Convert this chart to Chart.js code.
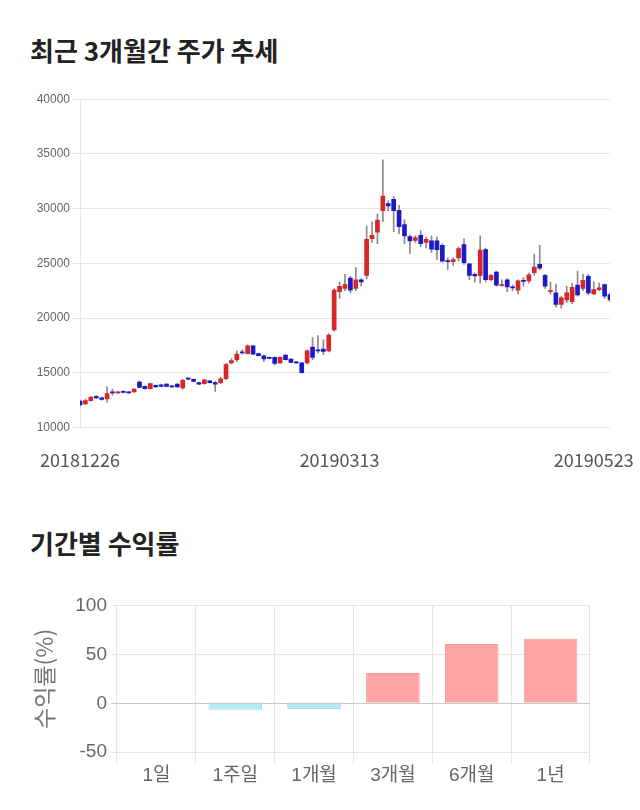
<!DOCTYPE html>
<html>
<head>
<meta charset="utf-8">
<script src="https://cdn.jsdelivr.net/npm/chart.js@4.4.1/dist/chart.umd.min.js"></script>
<style>
  body { margin: 0; background: #fff; width: 640px; height: 810px; position: relative; overflow: hidden; }
  h2 { position: absolute; left: 30px; margin: 0; line-height: 38px; font-family: "Noto Sans CJK KR", sans-serif; font-size: 26px; font-weight: bold; color: #222; }
  #t1 { top: 31px; }
  #t2 { top: 524px; }
  #w1 { position: absolute; left: 0; top: 90px; width: 640px; height: 395px; }
  #w2 { position: absolute; left: 0; top: 590px; width: 640px; height: 197px; }
</style>
</head>
<body>
<h2 id="t1">최근 3개월간 주가 추세</h2>
<h2 id="t2">기간별 수익률</h2>
<div id="w1"><canvas id="priceChart"></canvas></div>
<div id="w2"><canvas id="returnChart"></canvas></div>
<script>
// daily candles, 20181226 ~ 20190523
const opens = [12400,12150,12450,12850,12700,12600,13250,13150,13300,13250,13250,14150,13750,13550,13850,13900,13950,13800,13950,13600,
  14500,14400,14100,14000,14250,14100,14100,14450,15900,16200,16900,16750,17450,16750,16550,16400,16400,15900,16600,16250,
  16000,15900,15900,17350,17100,17150,17000,18900,22400,22700,23650,22700,23500,23900,27250,27850,29800,30450,30850,29850,
  28550,27450,27100,27550,26900,27050,27050,26650,25250,25150,25500,26700,24950,24000,23900,26250,23500,24200,22950,23500,
  22850,22550,23450,23400,24150,24900,23900,22400,22300,21250,21650,21500,23000,22700,23800,22200,22600,23050,22150];
const closes = [12050,12450,12750,12700,12550,13100,13150,13250,13200,13150,13500,13650,13550,14000,13700,13750,13750,13700,13700,14300,
  14400,14200,13950,14350,14100,13950,14450,15750,16100,16700,16800,17450,16700,16550,16250,16300,15850,16400,16200,15950,
  15900,15000,17000,16400,17000,16950,18450,22550,22900,23050,22550,23500,23300,27200,27550,28950,31150,30250,29800,28350,
  27500,27050,27350,26800,27200,26300,26250,25200,25150,25350,26350,25050,23900,23850,26200,23500,23900,23000,23050,22850,
  22750,23400,23350,23950,24650,24550,22900,22500,21250,21850,22300,22800,22100,23450,22300,22600,22750,22000,21650];
const highs = [12500,12600,12850,12900,12750,13700,13500,13300,13350,13300,13550,14250,13800,14050,13900,13950,14000,13850,14000,14400,
  14550,14450,14150,14400,14300,14200,14600,15850,16300,17000,17100,17550,17500,16800,16600,16450,16450,16450,16650,16300,
  16050,15950,17100,18200,18400,18000,18550,22700,23300,24000,23800,24600,23600,28400,28800,29500,34450,30700,31100,30300,
  29000,27600,27500,28000,27400,27500,27400,26800,25500,25500,26500,27250,25000,24100,27500,26400,24000,24300,23500,23600,
  23000,23500,23700,24100,25850,26650,24000,23300,23100,22000,22900,23200,24300,24000,24000,23300,23200,23100,22300];
const lows = [11950,12100,12400,12650,12500,12300,12950,13100,13150,13100,13200,13600,13500,13500,13650,13700,13700,13650,13650,13500,
  14350,14150,13900,13950,14050,13300,14000,14350,15800,16000,16700,16700,16650,16500,16000,16250,15700,15850,16150,15900,
  15850,14950,15800,16200,16800,16650,16900,18800,21800,22500,22300,22500,22900,23600,26900,26800,28800,29800,27900,27700,
  26800,25900,26900,26500,26400,26000,25350,25100,24450,24800,25200,24900,23500,23300,23200,23300,23400,22900,22900,22400,
  22500,22200,22900,23200,23900,24400,22700,22200,21000,20900,21400,21300,22000,22500,22100,22100,22500,21800,21500];
const xTickLabels = ['20181226', '20190313', '20190523'];
const xTickAt = [0, 48, 95];

// period returns (%)
const periods = ['1일', '1주일', '1개월', '3개월', '6개월', '1년'];
const returns = [0, -6.5, -5.8, 31, 60.5, 66];

const up = '#d92525', down = '#1a1ac8';

new Chart(document.getElementById('priceChart'), {
  type: 'bar',
  data: {
    labels: opens.map((o, i) => i),
    datasets: [{
      data: opens.map((o, i) => [o, closes[i]]),
      backgroundColor: opens.map((o, i) => closes[i] >= o ? up : down),
      barThickness: 4,
      grouped: false
    }, {
      data: lows.map((l, i) => [l, highs[i]]),
      backgroundColor: '#8a8a8a',
      barThickness: 1,
      grouped: false
    }]
  },
  options: {
    responsive: true,
    maintainAspectRatio: false,
    animation: false,
    layout: { padding: { top: 4, right: 30 } },
    plugins: { legend: { display: false }, tooltip: { enabled: false } },
    scales: {
      x: {
        offset: false,
        grid: { display: false },
        border: { display: false },
        ticks: {
          autoSkip: false,
          maxRotation: 0,
          padding: 14,
          color: '#555',
          font: { family: '"Noto Sans CJK KR"', size: 18 },
          callback: (v, i) => {
            const k = xTickAt.indexOf(i);
            return k >= 0 ? xTickLabels[k] : '';
          }
        }
      },
      y: {
        min: 10000,
        max: 40000,
        afterFit: s => { s.width = 80; },
        grid: { color: '#e6e6e6', tickLength: 8 },
        border: { color: '#e6e6e6' },
        ticks: {
          stepSize: 5000,
          padding: 2,
          color: '#666',
          font: { family: '"Liberation Sans", Arial', size: 12 },
          callback: v => String(v)
        }
      }
    }
  }
});

new Chart(document.getElementById('returnChart'), {
  type: 'bar',
  data: {
    labels: periods,
    datasets: [{
      data: returns,
      backgroundColor: returns.map(v => v >= 0 ? '#ffa4a4' : '#b3ebf3'),
      borderColor: returns.map(v => v >= 0 ? '#ef9a9a' : '#9fdbe4'),
      borderWidth: 1,
      barPercentage: 0.85
    }]
  },
  options: {
    responsive: true,
    maintainAspectRatio: false,
    animation: false,
    layout: { padding: { top: 6, right: 50 } },
    plugins: { legend: { display: false }, tooltip: { enabled: false } },
    scales: {
      x: {
        grid: { color: '#e6e6e6', tickLength: 12 },
        border: { display: false },
        ticks: {
          color: '#666',
          padding: 0,
          font: { family: '"Liberation Sans", "Noto Sans CJK KR"', size: 19 }
        }
      },
      y: {
        min: -50,
        max: 100,
        afterFit: s => { s.width = 117; },
        grid: { color: ctx => ctx.tick && ctx.tick.value === 0 ? '#c8c8c8' : '#e6e6e6', tickLength: 6 },
        border: { display: false },
        title: {
          display: true,
          text: '수익률(%)',
          color: '#777',
          padding: { top: 30, bottom: 0 },
          font: { family: '"Noto Sans CJK KR"', size: 23 }
        },
        ticks: {
          stepSize: 50,
          padding: 4,
          color: '#666',
          font: { family: '"Liberation Sans", Arial', size: 19 }
        }
      }
    }
  }
});
</script>
</body>
</html>
